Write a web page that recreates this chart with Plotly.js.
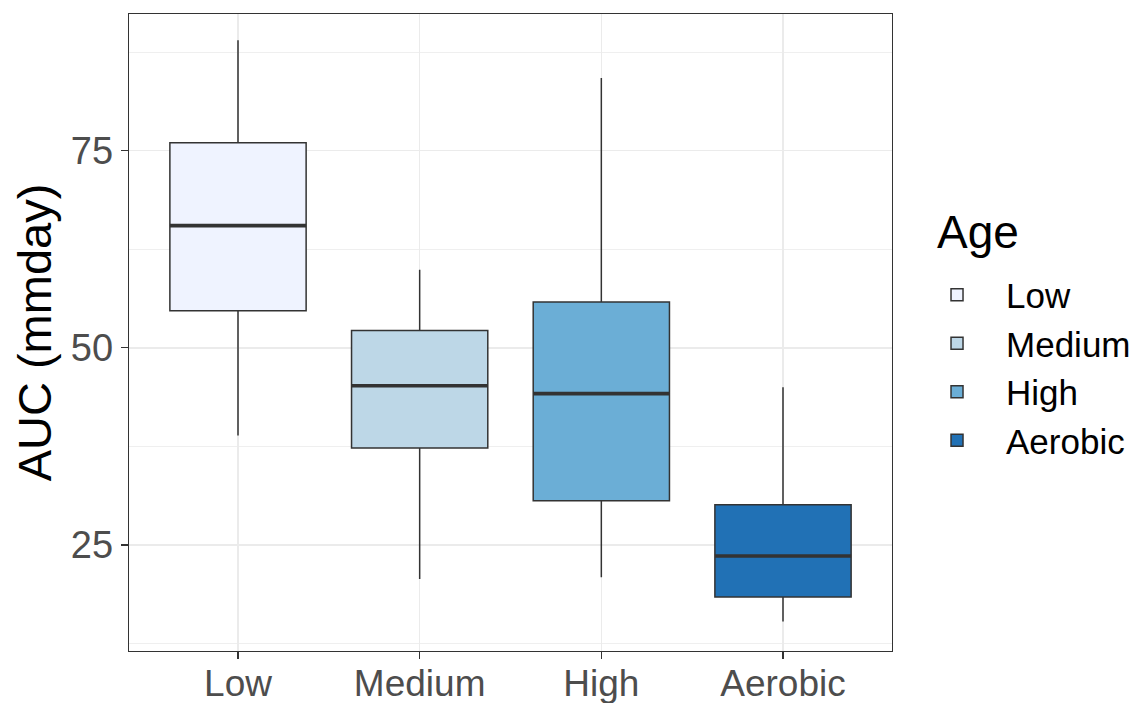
<!DOCTYPE html>
<html>
<head>
<meta charset="utf-8">
<script src="https://cdn.plot.ly/plotly-3.0.1.min.js"></script>
<style>html,body{margin:0;padding:0;background:#fff;}#chart{width:1145px;height:703px;}</style>
</head>
<body>
<div id="chart"></div>
<script>
// ---- data ----
const categories = ['Low', 'Medium', 'High', 'Aerobic'];
const lowerWhisker = [38.9, 20.7, 20.9, 15.3];
const q1 = [54.7, 37.3, 30.6, 18.4];
const medians = [65.5, 45.2, 44.2, 23.6];
const q3 = [76.0, 52.2, 55.8, 30.1];
const upperWhisker = [89.0, 59.9, 84.2, 45.0];
const yTicks = [25, 50, 75];
const legendTitle = 'Age';

// ---- styles ----
const fills = ['#EFF3FF', '#BDD7E7', '#6BAED6', '#2171B5'];
const BOX_W = 0.75;
const FONT = '"Liberation Sans", Arial, sans-serif';
const positions = categories.map((c, i) => i + 1);

const traces = [];
categories.forEach((cat, i) => {
  traces.push({
    type: 'box',
    name: cat,
    x: [positions[i]],
    q1: [q1[i]],
    median: [medians[i]],
    q3: [q3[i]],
    lowerfence: [lowerWhisker[i]],
    upperfence: [upperWhisker[i]],
    width: BOX_W,
    whiskerwidth: 0,
    fillcolor: fills[i],
    line: {color: '#333333', width: 1.5},
    boxpoints: false,
    hoverinfo: 'skip',
    legendgroup: cat
  });
});
categories.forEach((cat, i) => {
  traces.push({
    type: 'scatter',
    mode: 'lines',
    x: [positions[i] - BOX_W / 2, positions[i] + BOX_W / 2],
    y: [medians[i], medians[i]],
    line: {color: '#333333', width: 3.6},
    showlegend: false,
    hoverinfo: 'skip'
  });
});

const layout = {
  width: 1145,
  height: 703,
  margin: {l: 129, r: 253, t: 14, b: 52, autoexpand: false},
  paper_bgcolor: '#ffffff',
  plot_bgcolor: '#ffffff',
  font: {family: FONT, color: '#000000'},
  showlegend: true,
  xaxis: {
    range: [0.4, 4.6],
    tickmode: 'array',
    tickvals: positions,
    ticktext: categories,
    showgrid: true,
    gridcolor: '#EBEBEB',
    gridwidth: 1.4,
    zeroline: false,
    showline: true,
    mirror: true,
    linecolor: '#333333',
    linewidth: 1.3,
    ticks: 'outside',
    ticklen: 7,
    tickwidth: 1.3,
    tickcolor: '#333333',
    ticklabelstandoff: -8,
    tickfont: {family: FONT, size: 37, color: '#4D4D4D'}
  },
  yaxis: {
    range: [11.56, 92.33],
    tickmode: 'array',
    tickvals: yTicks,
    ticktext: yTicks.map(String),
    showgrid: true,
    gridcolor: '#EBEBEB',
    gridwidth: 1.4,
    minor: {tickmode: 'linear', tick0: 0, dtick: 12.5, showgrid: true, gridcolor: '#EBEBEB', gridwidth: 0.8, ticks: ''},
    zeroline: false,
    showline: true,
    mirror: true,
    linecolor: '#333333',
    linewidth: 1.3,
    ticks: 'outside',
    ticklen: 7,
    tickwidth: 1.3,
    tickcolor: '#333333',
    ticklabelstandoff: 0,
    tickfont: {family: FONT, size: 38, color: '#4D4D4D'},
    title: {text: 'AUC (mmday)', font: {family: FONT, size: 47, color: '#000000'}, standoff: 4}
  },
  legend: {
    font: {family: FONT, size: 35, color: '#000000'},
    x: 1.021,
    xanchor: 'left',
    y: 0.445,
    yanchor: 'middle',
    itemwidth: 88,
    bgcolor: 'rgba(0,0,0,0)',
    traceorder: 'normal'
  },
  annotations: [{
    text: legendTitle,
    xref: 'paper', yref: 'paper',
    x: 1.056, xanchor: 'left',
    y: 0.6578, yanchor: 'middle',
    showarrow: false,
    font: {family: FONT, size: 46, color: '#000000'}
  }]
};

Plotly.newPlot('chart', traces, layout, {displayModeBar: false, staticPlot: true});
</script>
</body>
</html>
